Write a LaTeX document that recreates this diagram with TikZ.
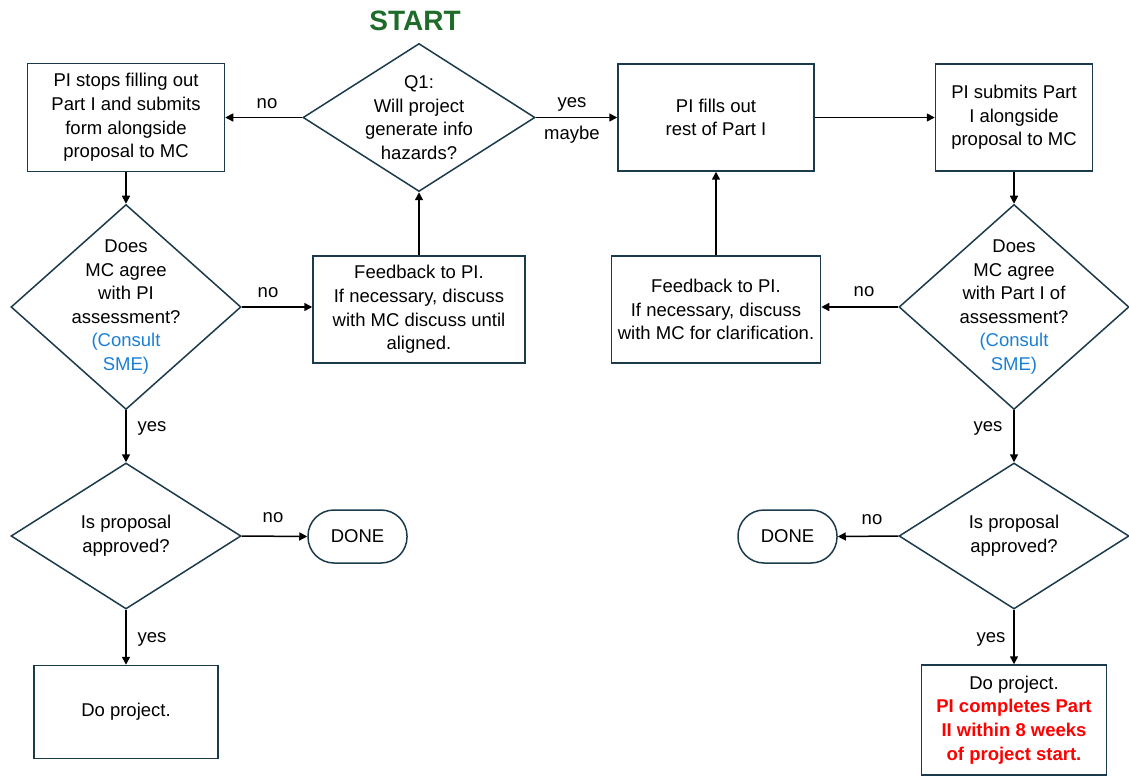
\documentclass[tikz,border=0pt]{standalone}
\usepackage{fontspec}
\setmainfont{Liberation Sans}
\usetikzlibrary{arrows.meta,shapes.geometric}

\definecolor{boxline}{HTML}{1B3A4B}
\definecolor{smeblue}{HTML}{1A7FD4}
\definecolor{startgreen}{HTML}{1E6B2A}
\definecolor{alertred}{HTML}{FF0000}

\newcommand\bodyfont{\fontsize{18.5}{23.6}\selectfont}
\newcommand\startfont{\fontsize{28}{32}\selectfont\bfseries}

\tikzset{
  stepbox/.style={draw=boxline, line width=1.5pt, align=center, font=\bodyfont,
                  inner sep=0pt, rectangle},
  decision/.style={draw=boxline, line width=1.5pt, diamond, inner sep=0pt,
                   minimum width=230pt},
  dtext/.style={align=center, font=\bodyfont, inner sep=0pt},
  terminal/.style={draw=boxline, line width=1.5pt, rounded corners=26pt,
                   minimum width=99pt, minimum height=53pt, font=\bodyfont},
  lbl/.style={font=\bodyfont, inner sep=0pt},
  arr/.style={-{Triangle[length=8pt,width=8pt]}, line width=1.5pt, black},
}

\begin{document}
\begin{tikzpicture}[x=1pt,y=-1pt]
\useasboundingbox (0,0) rectangle (1129,778);

% ---------- title ----------
\node[font=\startfont, text=startgreen, inner sep=0pt] (start) at (415,21) {START};

% ---------- top row ----------
\node[decision, minimum width=232pt, minimum height=148pt] (q1) at (419,117.5) {};
\node[dtext] (q1t) at (q1.center) {Q1:\\Will project\\generate info\\hazards?};

\node[stepbox, minimum width=197pt, minimum height=108pt] (stop) at (126,117.5)
  {PI stops filling out\\Part I and submits\\form alongside\\proposal to MC};
\node[stepbox, minimum width=196pt, minimum height=107pt] (fill) at (716,117.5)
  {PI fills out\\rest of Part I};
\node[stepbox, minimum width=157pt, minimum height=107pt] (submit) at (1014,117.5)
  {PI submits Part\\I alongside\\proposal to MC};

% ---------- middle row ----------
\node[decision, minimum height=205pt] (agreeL) at (126,307) {};
\node[dtext] (agreeLt) at (agreeL.center)
  {Does\\MC agree\\with PI\\assessment?\\\textcolor{smeblue}{(Consult}\\\textcolor{smeblue}{SME)}};

\node[stepbox, minimum width=212pt, minimum height=107pt] (fbL) at (419,309.5)
  {Feedback to PI.\\If necessary, discuss\\with MC discuss until\\aligned.};
\node[stepbox, minimum width=209pt, minimum height=107pt] (fbR) at (716,309.5)
  {Feedback to PI.\\If necessary, discuss\\with MC for clarification.};

\node[decision, minimum height=205pt] (agreeR) at (1014,307) {};
\node[dtext] (agreeRt) at (agreeR.center)
  {Does\\MC agree\\with Part I of\\assessment?\\\textcolor{smeblue}{(Consult}\\\textcolor{smeblue}{SME)}};

% ---------- approval row ----------
\node[decision, minimum height=146pt] (apprL) at (126,536) {};
\node[dtext] (apprLt) at (apprL.center) {Is proposal\\approved?};
\node[terminal] (doneL) at (357.5,536.5) {DONE};

\node[decision, minimum height=146pt] (apprR) at (1014,536) {};
\node[dtext] (apprRt) at (apprR.center) {Is proposal\\approved?};
\node[terminal] (doneR) at (787.5,536.5) {DONE};

% ---------- outcome boxes ----------
\node[stepbox, minimum width=184pt, minimum height=93pt] (doL) at (126,712)
  {Do project.};
\node[stepbox, minimum width=185pt, minimum height=110pt] (doR) at (1014,720)
  {Do project.\\\textcolor{alertred}{\bfseries PI completes Part}\\
   \textcolor{alertred}{\bfseries II within 8 weeks}\\
   \textcolor{alertred}{\bfseries of project start.}};

% ---------- connectors ----------
\draw[arr] (q1.west) -- (stop.east);
\draw[arr] (q1.east) -- (fill.west);
\draw[arr] (fill.east) -- (submit.west);
\draw[arr] (stop.south) -- (agreeL.north);
\draw[arr] (submit.south) -- (agreeR.north);
\draw[arr] (agreeL.east) -- (agreeL.east -| fbL.west);
\draw[arr] (fbL.north) -- (q1.south);
\draw[arr] (agreeR.west) -- (agreeR.west -| fbR.east);
\draw[arr] (fbR.north) -- (fill.south);
\draw[arr] (agreeL.south) -- (apprL.north);
\draw[arr] (agreeR.south) -- (apprR.north);
\draw[arr] (apprL.east) -- (doneL.west);
\draw[arr] (apprR.west) -- (doneR.east);
\draw[arr] (apprL.south) -- (doL.north);
\draw[arr] (apprR.south) -- (doR.north);

% ---------- connector labels ----------
\node[lbl] (noQ1) at (267,104) {no};
\node[lbl] (yesQ1) at (572,104) {yes};
\node[lbl] (maybeQ1) at (572,135) {maybe};
\node[lbl] (noAL) at (268,293) {no};
\node[lbl] (noAR) at (864,292) {no};
\node[lbl] (yesAL) at (152,428) {yes};
\node[lbl] (yesAR) at (988,428) {yes};
\node[lbl] (noPL) at (273,518) {no};
\node[lbl] (noPR) at (872,520) {no};
\node[lbl] (yesPL) at (152,639) {yes};
\node[lbl] (yesPR) at (991,639) {yes};
\end{tikzpicture}
\end{document}
